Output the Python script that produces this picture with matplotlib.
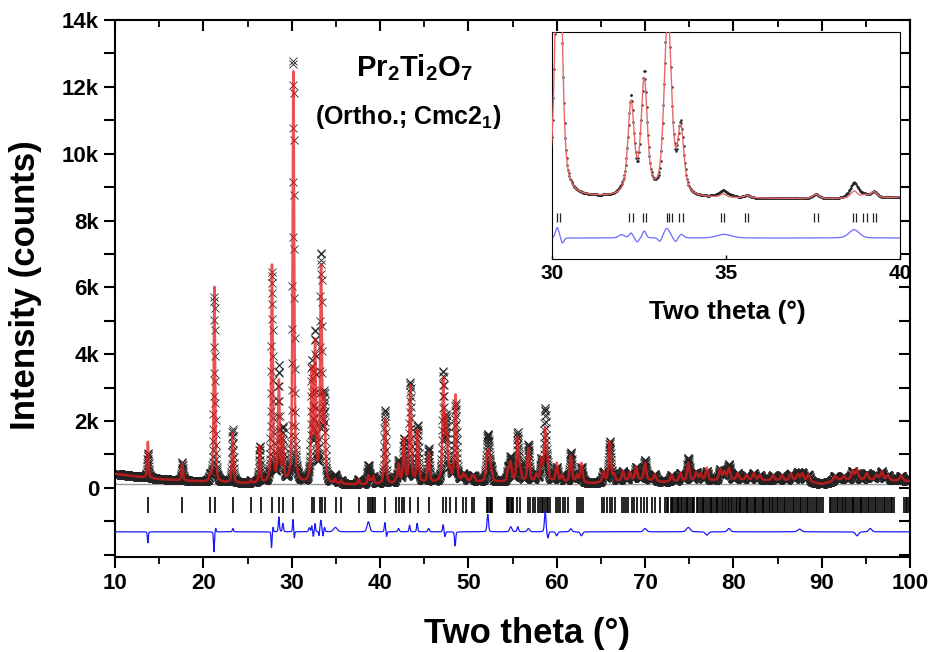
import numpy as np
import matplotlib
matplotlib.use('Agg')
import matplotlib.pyplot as plt
from matplotlib.ticker import MultipleLocator, FuncFormatter

plt.rcParams['font.family'] = ['Liberation Sans', 'DejaVu Sans']
plt.rcParams['font.weight'] = 'bold'
plt.rcParams['mathtext.fontset'] = 'custom'
plt.rcParams['mathtext.rm'] = 'Liberation Sans:bold'
plt.rcParams['mathtext.it'] = 'Liberation Sans:bold'
plt.rcParams['mathtext.bf'] = 'Liberation Sans:bold'

# ---------------- data ----------------
bg_pos = [10, 12, 15, 20, 25, 30, 36, 38, 42, 50, 60, 64, 70, 72, 76, 80, 85, 88, 90, 92, 96, 100]
bg_cnt = [420, 350, 260, 180, 130, 130, 100, 90, 120, 170, 170, 130, 230, 170, 200, 230, 220, 210, 110, 240, 230, 200]

peak_pos = [13.72, 17.62, 20.75, 21.25, 23.32, 25.4, 26.38, 27.77, 28.55, 29.0, 30.19,
            32.27, 32.65, 33.29, 33.37, 33.70, 34.92, 35.6, 37.58, 38.68, 38.98, 39.25,
            40.57, 41.8, 42.1, 42.7, 43.43, 44.27, 45.5, 47.17, 47.52, 47.93, 48.55, 49.4, 49.7,
            50.4, 50.65, 52.1, 52.32, 52.6, 54.5, 54.78, 55.58, 55.9, 56.8, 57.7, 58.25, 58.68,
            58.95, 60.0, 60.6, 61.6, 62.3, 62.8, 65.3, 66.0, 66.5, 67.5, 68.3, 69.0, 70.0, 71.1,
            73.0, 74.0, 74.9, 75.8, 76.3, 77.0, 78.5, 79.0, 79.5, 80.5, 81.5, 82.3, 83.0, 84.5,
            85.5, 86.5, 87.3, 87.8, 88.5, 91.5, 92.5, 93.5, 94.0, 95.1, 96.2, 96.8, 97.5, 99.0]
peak_amp = [1080, 540, 150, 5900, 1500, 80, 1100, 6550, 3000, 1300, 12400,
            3300, 4100, 3700, 3500, 2300, 120, 90, 150, 260, 100, 220,
            1950, 100, 550, 1300, 2900, 1550, 900, 3000, 1800, 300, 2600, 200, 150,
            150, 150, 700, 800, 300, 350, 550, 1300, 300, 1000, 200, 600, 1500,
            500, 550, 200, 800, 200, 580, 300, 1200, 200, 300, 250, 400, 500, 200,
            200, 250, 550, 250, 200, 380, 320, 250, 350, 200, 150, 200, 150, 150,
            150, 200, 180, 200, 200, 150, 100, 250, 300, 200, 150, 250, 150, 150]

diff_pos = [13.72, 21.2, 21.4, 23.35, 27.72, 27.9, 28.55, 29.0, 30.15, 30.3, 32.0, 32.27, 32.45,
            32.65, 33.1, 33.3, 33.55, 33.72, 34.95, 38.68, 40.55, 40.75, 42.1, 43.35, 44.2, 45.5,
            47.15, 47.35, 48.5, 52.2, 54.8, 55.6, 56.8, 58.7, 59.0, 60.0, 61.6, 62.8, 70.0, 74.9,
            77.0, 79.5, 87.5, 94.0, 95.5]
diff_amp = [-330, -600, 120, 100, -480, 150, 450, 250, 380, -200, 120, 180, -150,
            250, -150, 350, -150, 130, 130, 300, 280, -150, 100, 200, 250, 100,
            220, -150, -420, 520, 150, 150, 100, 620, -200, -120, 90, -120, 100, 130,
            -100, 100, 80, -120, 100]
diff_wid = [0.12, 0.12, 0.12, 0.15, 0.12, 0.12, 0.15, 0.15, 0.12, 0.10, 0.2, 0.12, 0.12,
            0.12, 0.12, 0.2, 0.12, 0.15, 0.5, 0.35, 0.15, 0.12, 0.2, 0.15, 0.15, 0.2,
            0.15, 0.15, 0.15, 0.2, 0.3, 0.2, 0.3, 0.2, 0.2, 0.25, 0.3, 0.3, 0.4, 0.5,
            0.4, 0.4, 0.5, 0.4, 0.4]

refl_pos = [13.77, 17.62, 20.75, 21.32, 23.4, 25.4, 26.49, 27.77, 28.57, 29.02, 30.19,
            32.3, 32.57, 33.25, 33.43, 33.8, 34.98, 35.62, 37.66, 38.68, 38.87, 39.06, 39.25,
            39.48, 40.57, 41.78, 42.15, 42.45, 42.72, 43.43, 44.27, 45.58, 47.17, 47.44, 47.93,
            48.6, 49.36, 49.7, 50.38, 50.64, 52.08, 52.25, 52.4, 52.55, 52.71, 54.35, 54.5,
            54.65, 54.8, 54.95, 55.1, 55.55, 55.85, 56.8, 57.0, 57.3, 57.55, 57.9, 58.1, 58.3,
            58.5, 58.7, 58.9, 59.05, 59.25, 59.9, 60.1, 60.4, 60.7, 60.95, 61.3, 62.27, 62.5,
            62.75, 63.0, 65.1, 65.3, 65.66, 66.04, 66.3, 66.6, 67.36, 67.6, 67.9, 68.1, 68.5,
            68.8, 69.06, 69.6, 69.9, 70.2, 70.76, 71.13, 71.7,
            72.3, 72.5, 72.6, 72.9, 73.1, 73.2, 73.4, 73.6, 73.7, 73.9, 74.1, 74.2, 74.4, 74.6,
            74.8, 74.9, 75.1, 75.3, 75.4, 75.6, 75.9, 76.0, 76.2, 76.4, 76.6, 76.7, 76.9, 77.1,
            77.3, 77.5, 77.6, 77.8, 78.0, 78.1, 78.3, 78.5, 78.7, 78.8, 79.0, 79.2, 79.4, 79.5,
            79.7, 79.9, 80.1, 80.3, 80.4, 80.6, 80.8, 80.9, 81.1, 81.3, 81.5, 81.6, 81.8, 82.0,
            82.2, 82.4, 82.5, 82.7, 82.9, 83.1, 83.3, 83.4, 83.6, 83.8, 84.0, 84.2, 84.4, 84.5,
            84.7, 84.9, 85.1, 85.3, 85.5, 85.7, 85.9, 86.1, 86.3, 86.5, 86.7, 86.9, 87.1, 87.3,
            87.5, 87.7, 87.9, 88.1, 88.3, 88.5, 88.7, 88.9, 89.1, 89.3, 89.5, 89.7, 89.9, 90.1,
            90.9, 91.1, 91.3, 91.5, 91.7, 91.9, 92.1, 92.3, 92.4, 92.6, 92.8, 93.0, 93.2, 93.4,
            93.5, 93.7, 93.9, 94.1, 94.3, 94.4, 94.6, 94.8, 95.0, 95.2, 95.4, 95.6, 95.8, 96.0,
            96.2, 96.4, 96.6, 96.8, 97.0, 97.2, 97.4, 97.6, 97.8, 98.0, 98.2,
            99.3, 99.5, 99.7, 99.9]

inset_refl_pos = [30.15, 30.23, 32.22, 32.32, 32.6, 32.7, 33.29, 33.37, 33.45, 33.65, 33.75,
                  34.85, 34.94, 35.55, 35.64, 37.54, 37.63, 38.64, 38.74, 38.95, 39.04,
                  39.21, 39.31]

x_ticks_main = [10, 20, 30, 40, 50, 60, 70, 80, 90, 100]
x_ticks_inset = [30, 35, 40]

# ---------------- profile construction ----------------
tt = np.arange(10.0, 100.0001, 0.02)
bg = np.interp(tt, bg_pos, bg_cnt)


def pv(x, p, w, eta=0.6):
    d = (x - p) / w
    return eta / (1 + 4 * d * d) + (1 - eta) * np.exp(-4 * np.log(2) * d * d)


calc = bg.copy()
for p, a in zip(peak_pos, peak_amp):
    w = 0.13 + 0.0025 * p
    calc += a * pv(tt, p, w)

diff = np.zeros_like(tt)
for p, a, w in zip(diff_pos, diff_amp, diff_wid):
    diff += a * pv(tt, p, w, eta=0.3)

obs = calc + diff
diff_offset = -1316
bg_line = 100

# ---------------- figure ----------------
fig = plt.figure(figsize=(9.35, 6.52), dpi=100)
ax = fig.add_axes([0.123, 0.1457, 0.8503, 0.8236])

ax.plot(tt, obs, linestyle='none', marker='x', ms=5.5, mew=0.6, color='#222222', zorder=2)
ax.plot(tt, calc, color='#e41a1c', lw=1.8, alpha=0.75, zorder=3)
ax.axhline(bg_line, color='#999999', lw=1.0, zorder=1)
ax.vlines(refl_pos, -750, -280, color='black', lw=1.2, zorder=2)
ax.plot(tt, diff + diff_offset, color='#1a1aff', lw=0.9, zorder=3)

ax.set_xlim(10, 100)
ax.set_ylim(-2070, 14000)
ax.set_xticks(x_ticks_main)
ax.xaxis.set_minor_locator(MultipleLocator(5))
ax.yaxis.set_major_locator(MultipleLocator(1000))


def yfmt(v, pos):
    if abs(v) < 1:
        return '0'
    if v > 0 and int(round(v)) % 2000 == 0:
        return f'{int(round(v / 1000))}k'
    return ''


ax.yaxis.set_major_formatter(FuncFormatter(yfmt))
ax.tick_params(axis='both', which='major', labelsize=16, width=1.5, length=8)
ax.tick_params(axis='x', which='minor', width=1.3, length=5)
ax.tick_params(axis='x', which='both', direction='out', top=True)
ax.tick_params(axis='y', which='both', direction='out', right=True)
# top / right ticks point inward
for t in ax.xaxis.get_major_ticks() + ax.xaxis.get_minor_ticks():
    t.tick2line.set_marker(3)
for t in ax.yaxis.get_major_ticks():
    t.tick2line.set_marker(0)
for lab in ax.get_xticklabels() + ax.get_yticklabels():
    lab.set_fontweight('bold')
for s in ax.spines.values():
    s.set_linewidth(1.5)

ax.set_xlabel('Two theta (°)', fontsize=25, fontweight='bold')
ax.xaxis.set_label_coords(0.518, -0.112)
ax.set_ylabel('Intensity (counts)', fontsize=25, fontweight='bold')
ax.yaxis.set_label_coords(-0.092, 0.506)

ax.text(0.376, 0.912, r'$\mathrm{Pr_2Ti_2O_7}$', transform=ax.transAxes,
        fontsize=21, ha='center', va='center')
ax.text(0.3686, 0.819, r'(Ortho.; Cmc2$_\mathrm{1}$)', transform=ax.transAxes,
        fontsize=18, fontweight='bold', ha='center', va='center')

# ---------------- inset ----------------
ins = fig.add_axes([0.5904, 0.6028, 0.3722, 0.3481])
m = (tt >= 29.9) & (tt <= 40.1)
ins.plot(tt[m], obs[m], linestyle='none', marker='.', ms=1.6, color='#222222', zorder=2)
ins.plot(tt[m], calc[m], color='#e86a6a', lw=1.0, zorder=3)
ins.vlines(inset_refl_pos, -750, -420, color='#222222', lw=0.9)
ins.plot(tt[m], diff[m] + diff_offset, color='#6b6bff', lw=0.9)
ins.set_xlim(30, 40)
ins.set_ylim(-2070, 6100)
ins.set_xticks(x_ticks_inset)
ins.set_yticks([])
ins.tick_params(axis='x', labelsize=15, direction='in', length=3, width=1)
for lab in ins.get_xticklabels():
    lab.set_fontweight('bold')
for s in ins.spines.values():
    s.set_linewidth(0.8)
ins.set_xlabel('Two theta (°)', fontsize=19, fontweight='bold')
ins.xaxis.set_label_coords(0.503, -0.18)

fig.savefig('out.png', dpi=100)
